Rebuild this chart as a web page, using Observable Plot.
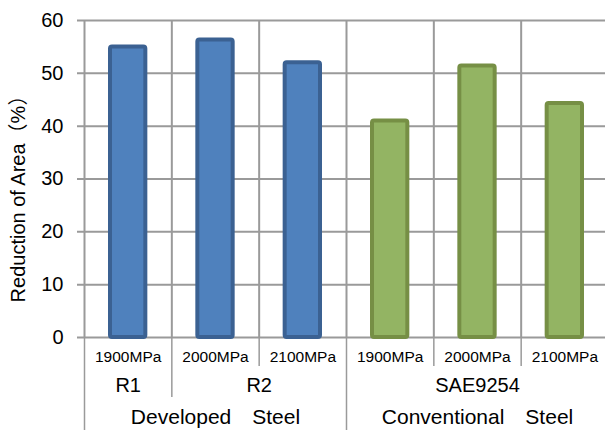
<!DOCTYPE html>
<html>
<head>
<meta charset="utf-8">
<script src="https://cdn.jsdelivr.net/npm/d3@7"></script>
<script src="https://cdn.jsdelivr.net/npm/@observablehq/plot@0.6"></script>
<style>
  html, body { margin: 0; padding: 0; background: #fff; overflow: hidden; }
  #chart svg { display: block; }
</style>
</head>
<body>
<div id="chart"></div>
<script>
// Tensile strength class of each specimen
const strengths = ["1900MPa", "2000MPa", "2100MPa", "1900MPa", "2000MPa", "2100MPa"];
// Steel grade of each specimen
const grades = ["R1", "R2", "R2", "SAE9254", "SAE9254", "SAE9254"];
// Steel family of each specimen
const steels = ["Developed\u3000Steel", "Developed\u3000Steel", "Developed\u3000Steel",
                "Conventional\u3000Steel", "Conventional\u3000Steel", "Conventional\u3000Steel"];
// Reduction of area (%)
const reduction = [55.0, 56.3, 52.0, 41.0, 51.4, 44.3];
// Y axis ticks
const yTicks = [0, 10, 20, 30, 40, 50, 60];
const yTitle = "Reduction of Area\uFF08%\uFF09";

const fills = {"Developed\u3000Steel": "#4f81bd", "Conventional\u3000Steel": "#93b463"};
const strokes = {"Developed\u3000Steel": "#3b6192", "Conventional\u3000Steel": "#768f45"};

const rows = strengths.map((s, i) => ({i, strength: s, grade: grades[i], steel: steels[i], value: reduction[i]}));

// contiguous runs of a category array -> spans [start, end)
function spans(arr) {
  const out = [];
  arr.forEach((v, i) => {
    const last = out[out.length - 1];
    if (last && last.label === v) last.end = i + 1;
    else out.push({label: v, start: i, end: i + 1});
  });
  return out;
}
const gradeSpans = spans(grades);
const steelSpans = spans(steels);

// boundary levels for the separators under the axis
const n = rows.length;
const boundaries = d3.range(n + 1).map(b => {
  let level = 1;
  if (b === 0 || b === n || steels[b - 1] !== steels[b]) level = 3;
  else if (grades[b - 1] !== grades[b]) level = 2;
  return {b, level};
});

const grid = "#9a9a9a";
const labelFont = "'Liberation Sans', Arial, 'Noto Sans CJK JP', sans-serif";

const chart = Plot.plot({
  width: 605,
  height: 430,
  marginLeft: 84,
  marginRight: 0,
  marginTop: 20,
  marginBottom: 93,
  style: {background: "#fff", fontFamily: labelFont, color: "#000"},
  x: {type: "linear", domain: [0, n], range: [84, 608], axis: null},
  y: {domain: [0, 60], ticks: yTicks, label: null},
  marks: [
    // horizontal gridlines (extend left as tick marks)
    Plot.ruleY(yTicks, {y: d => d, stroke: grid, strokeWidth: 2, insetLeft: -7}),
    // vertical gridlines between categories inside the frame
    Plot.ruleX(boundaries, {x: "b", y1: () => 0, y2: () => 60, stroke: grid, strokeWidth: 2}),
    // separators below the axis, by level
    Plot.ruleX(boundaries.filter(d => d.level === 1), {x: "b", y1: () => 0, y2: () => 0, insetBottom: -29, stroke: grid, strokeWidth: 1.5}),
    Plot.ruleX(boundaries.filter(d => d.level === 2), {x: "b", y1: () => 0, y2: () => 0, insetBottom: -60, stroke: grid, strokeWidth: 1.5}),
    Plot.ruleX(boundaries.filter(d => d.level === 3), {x: "b", y1: () => 0, y2: () => 0, insetBottom: -93, stroke: grid, strokeWidth: 1.5}),
    // bars
    Plot.rectY(rows, {
      x1: "i", x2: d => d.i + 1, y: "value",
      insetLeft: 26, insetRight: 26,
      fill: d => fills[d.steel], stroke: d => strokes[d.steel], strokeWidth: 4, rx: 2
    }),
    // y tick labels
    Plot.axisY({ticks: yTicks, tickSize: 0, tickPadding: 21, fontSize: 20, label: null}),
    // y title
    Plot.text([yTitle], {frameAnchor: "left", textAnchor: "middle", rotate: -90, dx: -66, dy: 15, fontSize: 20, fill: "#000"}),
    // strength labels
    Plot.text(rows, {x: d => d.i + 0.5, y: () => 0, dy: 20, text: "strength", fontSize: 15.5, fill: "#000"}),
    // grade labels
    Plot.text(gradeSpans, {x: d => (d.start + d.end) / 2, y: () => 0, dy: 48, text: "label", fontSize: 20, fill: "#000"}),
    // steel family labels
    Plot.text(steelSpans, {x: d => (d.start + d.end) / 2, y: () => 0, dy: 80, text: "label", fontSize: 21, fill: "#000"})
  ]
});
document.getElementById("chart").appendChild(chart);
</script>
</body>
</html>
